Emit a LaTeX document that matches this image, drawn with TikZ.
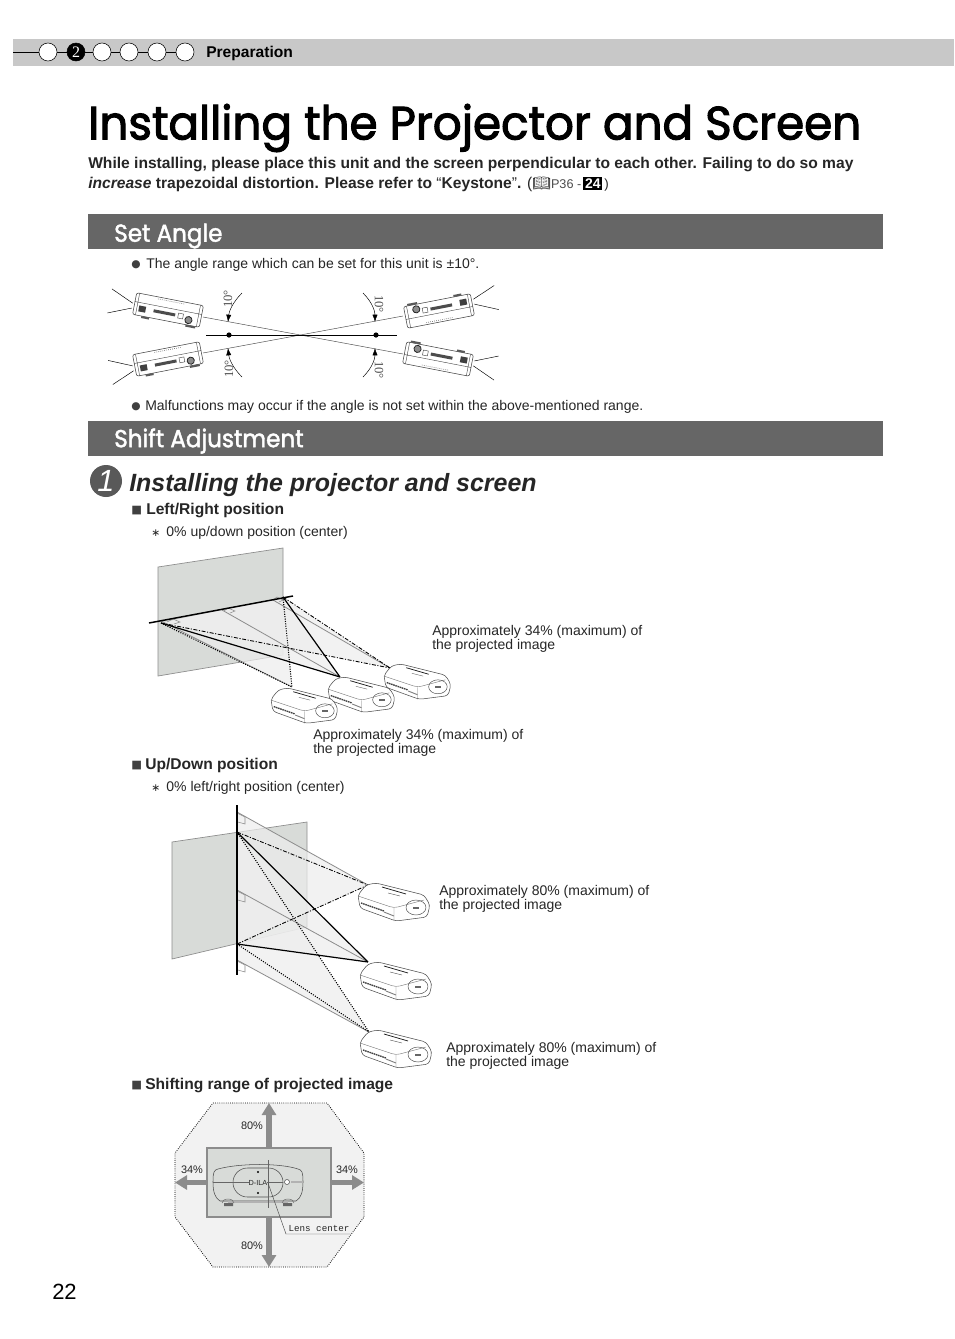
\documentclass[tikz,border=0pt]{standalone}
\usepackage{fontspec}
\setmainfont{Liberation Sans}
\newfontfamily\titlefont[FakeBold=2.2,FakeStretch=.97]{Poppins}
\newfontfamily\headfont[FakeBold=1.8,FakeStretch=.94]{Poppins}
\newfontfamily\symfont{DejaVu Sans}
\newfontfamily\bookfont{Noto Emoji}
\newfontfamily\serfont{Liberation Serif}
\newfontfamily\monofont{Liberation Mono}
\usetikzlibrary{arrows.meta}
\definecolor{barbg}{HTML}{C8C8C8}
\definecolor{headbg}{HTML}{666666}
\definecolor{screenbg}{HTML}{D8DBD8}
\definecolor{inktext}{HTML}{262626}
\definecolor{rayline}{HTML}{8C8C8C}
\tikzset{
  txt/.style={anchor=west,inner sep=0,yshift=-1.5pt,align=left,text=inktext,font=\fontsize{10.5}{10.5}\selectfont},
  boldtxt/.style={txt,yshift=.75pt,font=\fontsize{11.7}{11.7}\selectfont\bfseries},
  headtxt/.style={anchor=west,inner sep=0,yshift=-1.5pt,text=white,font=\headfont\fontsize{18.4}{18.4}\selectfont},
  headbar/.style={fill=headbg},
  stepdot/.style={circle,draw=black,fill=white,line width=.4pt,minimum size=13.5pt,inner sep=0},
  symtxt/.style={txt,text=black!75,font=\symfont\fontsize{8.5}{8.5}\selectfont},
  degtxt/.style={inner sep=0,text=black!70,font=\serfont\fontsize{9.5}{9.5}\selectfont},
  pcttxt/.style={inner sep=0,yshift=-.75pt,text=inktext,font=\fontsize{8.2}{8.2}\selectfont},
  screen/.style={fill=screenbg,draw=rayline,line width=.5pt},
  beam/.style={fill=black!7,fill opacity=.7},
  ray/.style={rayline,line width=.6pt},
  dotray/.style={black,line width=.8pt,densely dotted},
  dashray/.style={black,line width=.65pt,dash pattern=on 3pt off 1.2pt on .8pt off 1.2pt},
  solidray/.style={black,line width=.9pt},
  tiparc/.style={black,line width=.35pt,-{Latex[length=5.5pt,width=3.8pt]}},
  shiftarrow/.style={rayline,line width=4pt,-{Triangle[width=10.5pt,length=9pt]}},
  sideproj/.pic={
    \draw[black!75,fill=white,line width=.4pt,rounded corners=1.5pt] (-34,-11) rectangle (34,11);
    \draw[black!75,line width=.3pt] (-34,-2) -- (34,-2) (-31,-11) -- (-31,11) (31,-11) -- (31,11);
    \draw[black!60,line width=.5pt,densely dotted] (-12,-9) -- (16,-9);
    \fill[black!75] (-29,1) rectangle (-22,7);
    \fill[black!70] (-14,2) rectangle (8,5);
    \draw[black!85,line width=.6pt,fill=black!45] (22,6) circle (3.6);
    \draw[black!70,line width=.35pt] (11,1) rectangle (16,6);
    \fill[black!65] (-25,11) rectangle (-17,13) (20,11) rectangle (30,13);
    \draw[black,line width=.35pt] (-36,0) -- (-59,-10) (-36,5) -- (-59,14.5);
  },
  proj/.pic={
    \draw[black!70,fill=white,line width=.4pt,rounded corners=2.5pt] (0,12) -- (8,2) -- (18,0) -- (66,12) -- (72,22) -- (69,34) -- (38,38) -- (2,25) -- cycle;
    \draw[black!55,line width=.3pt,rounded corners=3pt] (0,13) -- (36,25) -- (66,17) (36,25) -- (36,38);
    \draw[black!90,line width=.55pt] (24,4) -- (48,11);
    \draw[black!65,line width=.3pt] (30,10) -- (42,13);
    \draw[black!70,line width=.35pt] (58,24.5) ellipse [x radius=10,y radius=7.5];
    \fill[black!60] (55,24) rectangle (61,26);
    \draw[black!75,line width=1pt,dash pattern=on 1.2pt off .5pt] (3,20) -- (26,28);
    \draw[black!50,line width=.7pt] (26,29) -- (36,33);
  },
}
\begin{document}
\begin{tikzpicture}[x=.75pt,y=-.75pt]
  \useasboundingbox[fill=white] (0,0) rectangle (954,1339);

  % top bar
  \fill[barbg] (13,39) rectangle (954,66);
  \draw[black,line width=.6pt] (13,52) -- (185,52);
  \foreach \dotx/\dotname in {48/a,102/c,129/d,157/e,185/f}
    \node[stepdot] (step\dotname) at (\dotx,52) {};
  \node[stepdot,fill=black,text=white,font=\serfont\fontsize{12}{12}\selectfont] (stepb) at (76,52) {2};
  \node[boldtxt,text=black] (barlabel) at (206,52) {Preparation};

  % title and intro
  \node[anchor=west,inner sep=0,text=black,font=\titlefont\fontsize{35}{35}\selectfont] (title) at (88,128) {Installing the Projector and Screen};
  \node[boldtxt] (introa) at (88,163) {While installing, please place this unit and the screen perpendicular to each other. Failing to do so may};
  \node[boldtxt] (introb) at (88,183) {\textit{increase} trapezoidal distortion. Please refer to {\mdseries“}Keystone{\mdseries”}. {\mdseries(\bookfont\fontsize{11}{11}\selectfont 📖}{\mdseries\fontsize{9.5}{9.5}\selectfont\textcolor{black!70}{P36 -}\,}{\fontsize{10.5}{10.5}\selectfont\setlength{\fboxsep}{1.2pt}\colorbox{black}{\textcolor{white}{24}}}{\mdseries\fontsize{10}{10}\selectfont\,)}};

  % set angle
  \fill[headbar] (88,214) rectangle (883,249);
  \node[headtxt] (anglehead) at (114,234) {Set Angle};
  \node[symtxt,font=\symfont\fontsize{8}{8}\selectfont] (anglebulleta) at (131,263) {●};
  \node[txt] (angletexta) at (146,263) {The angle range which can be set for this unit is ±10°.};

  \coordinate (tla) at (203,317);
  \coordinate (bra) at (403,354);
  \coordinate (bla) at (203,353);
  \coordinate (tra) at (403,316);
  \draw[black!70,line width=.35pt] (tla) -- (bra) (bla) -- (tra);
  \pic[rotate=-11] at (168,310) {sideproj};
  \pic[rotate=11] at (168,359) {sideproj};
  \pic[rotate=191] at (439,311) {sideproj};
  \pic[rotate=169] at (438,359) {sideproj};
  \coordinate (axisl) at (206,335);
  \coordinate (axisr) at (397,335);
  \draw[black,line width=.7pt] (axisl) -- (axisr);
  \fill[black] (229,335) circle (2.6) (376,335) circle (2.6);
  \draw[tiparc] (242,293) .. controls (232,303) and (229,312) .. (228,322);
  \draw[tiparc] (242,377) .. controls (232,367) and (229,358) .. (228,348);
  \draw[tiparc] (363,293) .. controls (373,303) and (375,312) .. (375,322);
  \draw[tiparc] (363,377) .. controls (373,367) and (375,358) .. (375,348);
  \node[degtxt,rotate=90] (dega) at (228,299) {10°};
  \node[degtxt,rotate=90] (degb) at (229,369) {10°};
  \node[degtxt,rotate=-90] (degc) at (379,304) {10°};
  \node[degtxt,rotate=-90] (degd) at (379,370) {10°};

  \node[symtxt,font=\symfont\fontsize{8}{8}\selectfont] (anglebulletb) at (131,405) {●};
  \node[txt] (angletextb) at (145,405) {Malfunctions may occur if the angle is not set within the above-mentioned range.};

  % shift adjustment
  \fill[headbar] (88,421) rectangle (883,456);
  \node[headtxt] (shifthead) at (114,439) {Shift Adjustment};
  \node[circle,fill=black!65,minimum size=24pt,inner sep=0,text=white,font=\fontsize{23}{23}\selectfont\itshape] (stepone) at (106,481) {1};
  \node[txt,font=\fontsize{18.7}{18.7}\selectfont\bfseries\itshape] (shifttitle) at (129,483) {Installing the projector and screen};

  \node[symtxt] (squarea) at (131,509) {■};
  \node[boldtxt] (lrlabel) at (146,509) {Left/Right position};
  \node[txt] (lrnote) at (151,531) {{\symfont\fontsize{8}{8}\selectfont ∗}\, 0\% up/down position (center)};

  % left/right figure
  \draw[screen] (158,567) -- (283,548) -- (283,655) -- (158,676) -- cycle;
  \coordinate (lrl) at (161,623);
  \coordinate (lrr) at (283,597);
  \coordinate (pa) at (292,687);
  \coordinate (pb) at (340,677);
  \coordinate (pc) at (390,668);
  \fill[beam] (lrl) -- (pa) -- (lrr) -- cycle;
  \fill[beam] (lrl) -- (pb) -- (lrr) -- cycle;
  \fill[beam] (lrl) -- (pc) -- (lrr) -- cycle;
  \draw[ray] (161,621) -- (pa) (222,610) -- (pb) (273,600) -- (pc);
  \draw[ray,line width=.4pt] (167,622) -- (173,619) -- (180,622) -- (174,624) (224,611) -- (228,608) -- (235,611) -- (230,613) (273,600) -- (277,597) -- (283,600) -- (279,602);
  \draw[dotray] (lrl) -- (pa) (lrr) -- (pa);
  \draw[solidray] (lrl) -- (pb) (lrr) -- (pb);
  \draw[dashray] (lrl) -- (pc) (lrr) -- (pc);
  \coordinate (lineal) at (149,623);
  \coordinate (linear) at (293,596);
  \draw[black,line width=1.1pt] (lineal) -- (linear);
  \pic[scale=.93] at (384,664) {proj};
  \pic[scale=.93] at (328,677) {proj};
  \pic[scale=.93] at (271,688) {proj};
  \node[txt] (lrtexta) at (432,637) {Approximately 34\% (maximum) of\\the projected image};
  \node[txt] (lrtextb) at (313,741) {Approximately 34\% (maximum) of\\the projected image};

  \node[symtxt] (squareb) at (131,764) {■};
  \node[boldtxt] (udlabel) at (145,764) {Up/Down position};
  \node[txt] (udnote) at (151,786) {{\symfont\fontsize{8}{8}\selectfont ∗}\, 0\% left/right position (center)};

  % up/down figure
  \draw[screen] (172,842) -- (307,822) -- (307,927) -- (172,959) -- cycle;
  \coordinate (udt) at (237,832);
  \coordinate (udb) at (237,944);
  \coordinate (qa) at (368,885);
  \coordinate (qb) at (368,962);
  \coordinate (qc) at (369,1032);
  \fill[beam] (237,812) -- (qa) -- (udb) -- cycle;
  \fill[beam] (udt) -- (qb) -- (udb) -- cycle;
  \fill[beam] (udt) -- (qc) -- (237,960) -- cycle;
  \draw[ray] (237,812) -- (qa) (237,890) -- (qb) (237,960) -- (qc);
  \draw[ray,line width=.4pt] (237,813) -- (245,817) -- (245,824) -- (238,822) (237,891) -- (245,895) -- (245,902) -- (238,900) (237,961) -- (245,965) -- (245,972) -- (238,970);
  \draw[dashray] (udt) -- (qa) (udb) -- (qa);
  \draw[solidray] (udt) -- (qb) (udb) -- (qb);
  \draw[dotray] (udt) -- (qc) (udb) -- (qc);
  \coordinate (linet) at (237,805);
  \coordinate (lineb) at (237,975);
  \draw[black,line width=1.3pt] (linet) -- (lineb);
  \pic at (358,883) {proj};
  \pic at (360,962) {proj};
  \pic at (360,1030) {proj};
  \node[txt] (udtexta) at (439,897) {Approximately 80\% (maximum) of\\the projected image};
  \node[txt] (udtextb) at (446,1054) {Approximately 80\% (maximum) of\\the projected image};

  \node[symtxt] (squarec) at (131,1084) {■};
  \node[boldtxt] (rangelabel) at (145,1084) {Shifting range of projected image};

  % shifting range figure
  \draw[fill=black!5,line width=.6pt,densely dotted] (213,1103) -- (327,1103) -- (364,1153) -- (364,1217) -- (327,1267) -- (213,1267) -- (175,1217) -- (175,1153) -- cycle;
  \draw[rayline,line width=1.5pt,fill=screenbg] (207,1148) rectangle (331,1217);
  \coordinate (tipu) at (269,1103);
  \coordinate (tipd) at (269,1267);
  \coordinate (tipl) at (175,1182.5);
  \coordinate (tipr) at (364,1182.5);
  \draw[shiftarrow] (269,1148) -- (tipu);
  \draw[shiftarrow] (269,1217) -- (tipd);
  \draw[shiftarrow] (207,1182.5) -- (tipl);
  \draw[shiftarrow] (331,1182.5) -- (tipr);
  \draw[black!70,line width=.4pt] (213,1182) .. controls (213,1172) and (214,1170) .. (218,1169) .. controls (240,1163) and (280,1163) .. (298,1169) .. controls (302,1170) and (303,1172) .. (303,1182) .. controls (303,1192) and (301,1198) .. (296,1201) -- (220,1201) .. controls (215,1198) and (213,1192) .. (213,1182) -- cycle;
  \draw[black!70,line width=.4pt,rounded corners=10.8pt] (233,1168) rectangle (283,1197);
  \draw[black!60,line width=.35pt] (213,1182) -- (283,1182);
  \draw[black!30,line width=.8pt] (291,1182) -- (303,1182) (228,1202) -- (288,1202);
  \draw[black!60,line width=.35pt] (268,1160) -- (268,1208);
  \draw[black!70,line width=.4pt,fill=white] (287,1182) circle (2.5);
  \fill[black] (258,1172) circle (1.1) (258,1193) circle (1.1);
  \fill[black!60] (224,1203) rectangle (233,1206) (283,1203) rectangle (292,1206);
  \draw[black!60,line width=.35pt] (222,1203) arc (180:360:6 and 4) (282,1203) arc (180:360:6 and 4);
  \node[inner sep=0,fill=screenbg,text=black!85,font=\fontsize{5.5}{5.5}\selectfont] (logo) at (258,1182.5) {D-ILA};
  \coordinate (lensc) at (268,1183);
  \coordinate (lensb) at (286,1234);
  \coordinate (lense) at (350,1234);
  \draw[black!70,line width=.35pt] (lensc) -- (lensb) -- (lense);
  \node[inner sep=0,text=inktext,font=\monofont\fontsize{6.9}{6.9}\selectfont] (lenstxt) at (319,1228) {Lens center};
  \node[pcttxt] (pcta) at (252,1125) {80\%};
  \node[pcttxt] (pctb) at (252,1245) {80\%};
  \node[pcttxt] (pctc) at (192,1169) {34\%};
  \node[pcttxt] (pctd) at (347,1169) {34\%};

  \node[txt,text=black,font=\fontsize{16.5}{16.5}\selectfont] (pagenum) at (52,1290) {22};
\end{tikzpicture}
\end{document}
